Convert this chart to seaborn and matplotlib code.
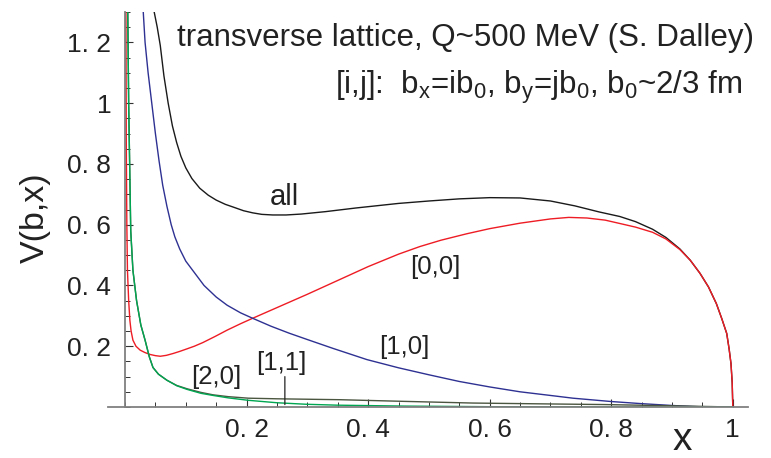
import numpy as np
import pandas as pd
import matplotlib
matplotlib.use("Agg")
import matplotlib.pyplot as plt
import seaborn as sns
from matplotlib.ticker import FixedLocator, FixedFormatter, MultipleLocator

# ---- data ----
all_x = [0.048, 0.053, 0.058, 0.064, 0.071, 0.078, 0.085, 0.092, 0.100, 0.110, 0.123, 0.137,
         0.150, 0.165, 0.178, 0.195, 0.210, 0.225, 0.243, 0.265, 0.290, 0.330, 0.380, 0.450,
         0.500, 0.550, 0.600, 0.650, 0.700, 0.740, 0.780, 0.814, 0.840, 0.868, 0.890, 0.913,
         0.930, 0.946, 0.960, 0.973, 0.982, 0.990, 0.994, 0.997, 0.999, 1.000]
all_y = [1.30, 1.25, 1.19, 1.09, 1.00, 0.925, 0.87, 0.825, 0.787, 0.752, 0.72, 0.697,
         0.681, 0.667, 0.658, 0.646, 0.639, 0.634, 0.632, 0.632, 0.635, 0.643, 0.655, 0.670,
         0.678, 0.685, 0.689, 0.688, 0.678, 0.662, 0.642, 0.627, 0.610, 0.585, 0.558, 0.520,
         0.483, 0.440, 0.395, 0.340, 0.290, 0.242, 0.190, 0.143, 0.080, 0.0]

r00_x = [0.0015, 0.002, 0.003, 0.004, 0.006, 0.008, 0.010, 0.013, 0.018, 0.025, 0.033, 0.041,
         0.050, 0.058, 0.068, 0.079, 0.090, 0.100, 0.114, 0.128, 0.148, 0.168, 0.190, 0.210,
         0.300, 0.400, 0.450, 0.485, 0.520, 0.562, 0.600, 0.650, 0.700, 0.730, 0.760, 0.790,
         0.814, 0.840, 0.868, 0.890, 0.913, 0.930, 0.946, 0.960, 0.973, 0.982, 0.990, 0.994,
         0.997, 0.999, 1.000]
r00_y = [1.30, 0.90, 0.60, 0.45, 0.35, 0.285, 0.25, 0.22, 0.20, 0.187, 0.179, 0.173,
         0.169, 0.167, 0.170, 0.176, 0.183, 0.190, 0.200, 0.212, 0.232, 0.253, 0.274, 0.292,
         0.371, 0.462, 0.503, 0.528, 0.549, 0.570, 0.587, 0.605, 0.619, 0.624, 0.622, 0.615,
         0.604, 0.592, 0.575, 0.553, 0.518, 0.483, 0.440, 0.395, 0.340, 0.290, 0.242, 0.190,
         0.143, 0.080, 0.0]

r10_x = [0.030, 0.033, 0.038, 0.044, 0.050, 0.056, 0.062, 0.069, 0.076, 0.082, 0.090, 0.100,
         0.115, 0.130, 0.150, 0.168, 0.190, 0.210, 0.240, 0.270, 0.300, 0.342, 0.398, 0.450,
         0.500, 0.550, 0.600, 0.650, 0.700, 0.737, 0.800, 0.850, 0.900, 0.930, 0.957]
r10_y = [1.30, 1.20, 1.10, 1.00, 0.90, 0.81, 0.73, 0.66, 0.60, 0.56, 0.52, 0.48,
         0.44, 0.40, 0.362, 0.335, 0.310, 0.292, 0.266, 0.243, 0.222, 0.193, 0.156, 0.129,
         0.106, 0.084, 0.066, 0.050, 0.038, 0.029, 0.018, 0.011, 0.005, 0.002, 0.0]

r20_x = [0.0045, 0.006, 0.0094, 0.013, 0.019, 0.026, 0.033, 0.040, 0.046, 0.055, 0.069, 0.085,
         0.102, 0.125, 0.145, 0.170, 0.203, 0.250, 0.298, 0.350, 0.460, 0.600, 0.800, 1.000]
r20_y = [1.30, 1.00, 0.58, 0.45, 0.35, 0.27, 0.22, 0.165, 0.13, 0.108, 0.088, 0.07,
         0.058, 0.045, 0.038, 0.03, 0.022, 0.014, 0.009, 0.006, 0.003, 0.001, 0.0, 0.0]

r11_x = [0.0045, 0.006, 0.0094, 0.013, 0.019, 0.026, 0.033, 0.040, 0.046, 0.055, 0.069, 0.085,
         0.102, 0.125, 0.145, 0.170, 0.203, 0.250, 0.354, 0.450, 0.572, 0.700, 0.790, 0.900, 0.950, 1.000]
r11_y = [1.30, 1.00, 0.58, 0.45, 0.35, 0.27, 0.22, 0.165, 0.13, 0.108, 0.088, 0.071,
         0.06, 0.048, 0.04, 0.034, 0.029, 0.027, 0.024, 0.019, 0.013, 0.01, 0.008, 0.004, 0.002, 0.0]

# drawing order: [1,1] below [2,0] so the green shows on top
series_names = ["all", "[0,0]", "[1,0]", "[1,1]", "[2,0]"]
series_colors = ["#1a1a1a", "#ee1c24", "#2e3192", "#4b5640", "#00a651"]
series_x = [all_x, r00_x, r10_x, r11_x, r20_x]
series_y = [all_y, r00_y, r10_y, r11_y, r20_y]

x_ticks = [0.2, 0.4, 0.6, 0.8, 1.0]
x_tick_labels = ["0. 2", "0. 4", "0. 6", "0. 8", "1"]
y_ticks = [0.2, 0.4, 0.6, 0.8, 1.0, 1.2]
y_tick_labels = ["0. 2", "0. 4", "0. 6", "0. 8", "1", "1. 2"]

title_line1 = "transverse lattice, Q~500 MeV (S. Dalley)"
title_line2 = (r"[i,j]:  b$_\mathregular{x}$=ib$_\mathregular{0}$, "
               r"b$_\mathregular{y}$=jb$_\mathregular{0}$, b$_\mathregular{0}$~2/3 fm")

# ---- build long table ----
frames = []
for name, xs, ys in zip(series_names, series_x, series_y):
    frames.append(pd.DataFrame({"x": xs, "V": ys, "series": name}))
df = pd.concat(frames, ignore_index=True)

sns.set_style("ticks")
plt.rcParams["font.family"] = ["Liberation Sans", "DejaVu Sans"]
plt.rcParams["mathtext.fontset"] = "custom"
plt.rcParams["mathtext.rm"] = "Liberation Sans"

fig = plt.figure(figsize=(7.71, 4.58), dpi=100)
ax = fig.add_axes([108 / 771, 1 - 407 / 458, 640 / 771, 395 / 458])

sns.lineplot(data=df, x="x", y="V", hue="series", hue_order=series_names,
             palette=series_colors, estimator=None, sort=False, legend=False,
             linewidth=1.0, ax=ax)

ax.set_xlim(-0.028, 1.025)
ax.set_ylim(0.0, 1.30)

for s in ["top", "right"]:
    ax.spines[s].set_visible(False)
ax.spines["left"].set_position(("data", 0))
ax.spines["bottom"].set_position(("data", 0))
for s in ["left", "bottom"]:
    ax.spines[s].set_color("#808080")
    ax.spines[s].set_linewidth(1.3)

ax.xaxis.set_major_locator(FixedLocator(x_ticks))
ax.xaxis.set_major_formatter(FixedFormatter(x_tick_labels))
ax.yaxis.set_major_locator(FixedLocator(y_ticks))
ax.yaxis.set_major_formatter(FixedFormatter(y_tick_labels))
ax.xaxis.set_minor_locator(MultipleLocator(0.05))
ax.yaxis.set_minor_locator(MultipleLocator(0.05))
ax.tick_params(axis="both", which="major", direction="in", length=6, width=0.8,
               color="#333333", labelsize=19, labelcolor="#222222",
               bottom=True, left=True, top=False, right=False)
ax.tick_params(axis="both", which="minor", direction="in", length=3.5, width=0.7,
               color="#333333", bottom=True, left=True, top=False, right=False)
ax.tick_params(axis="x", which="major", pad=8)
ax.tick_params(axis="y", which="major", pad=10)

ax.set_xlabel("")
ax.set_ylabel("")
fig.text(35 / 771, 1 - 218 / 458, "V(b,x)", rotation=90, ha="center", va="center",
         fontsize=24.5, color="#222222")
fig.text(682 / 771, 1 - 440 / 458, "x", ha="center", va="center",
         fontsize=28, color="#222222")

ax.text(0.0855, 1.215, title_line1, ha="left", va="center", fontsize=22.5, color="#222222")
ax.text(0.345, 1.052, title_line2, ha="left", va="center", fontsize=22.5, color="#222222")

label_kw = dict(ha="center", va="center", fontsize=18.5, color="#222222")
ax.text(0.263, 0.69, "all", ha="center", va="center", fontsize=21, color="#222222")
ax.text(0.51, 0.46, "[0,0]", **label_kw)
ax.text(0.46, 0.197, "[1,0]", **label_kw)
ax.text(0.15, 0.098, "[2,0]", **label_kw)
ax.text(0.257, 0.144, "[1,1]", **label_kw)
ax.annotate("", xy=(0.263, 0.008), xytext=(0.263, 0.10),
            arrowprops=dict(arrowstyle="-", color="#222222", lw=0.9,
                            shrinkA=0, shrinkB=0))

fig.savefig("out.png", dpi=100)
